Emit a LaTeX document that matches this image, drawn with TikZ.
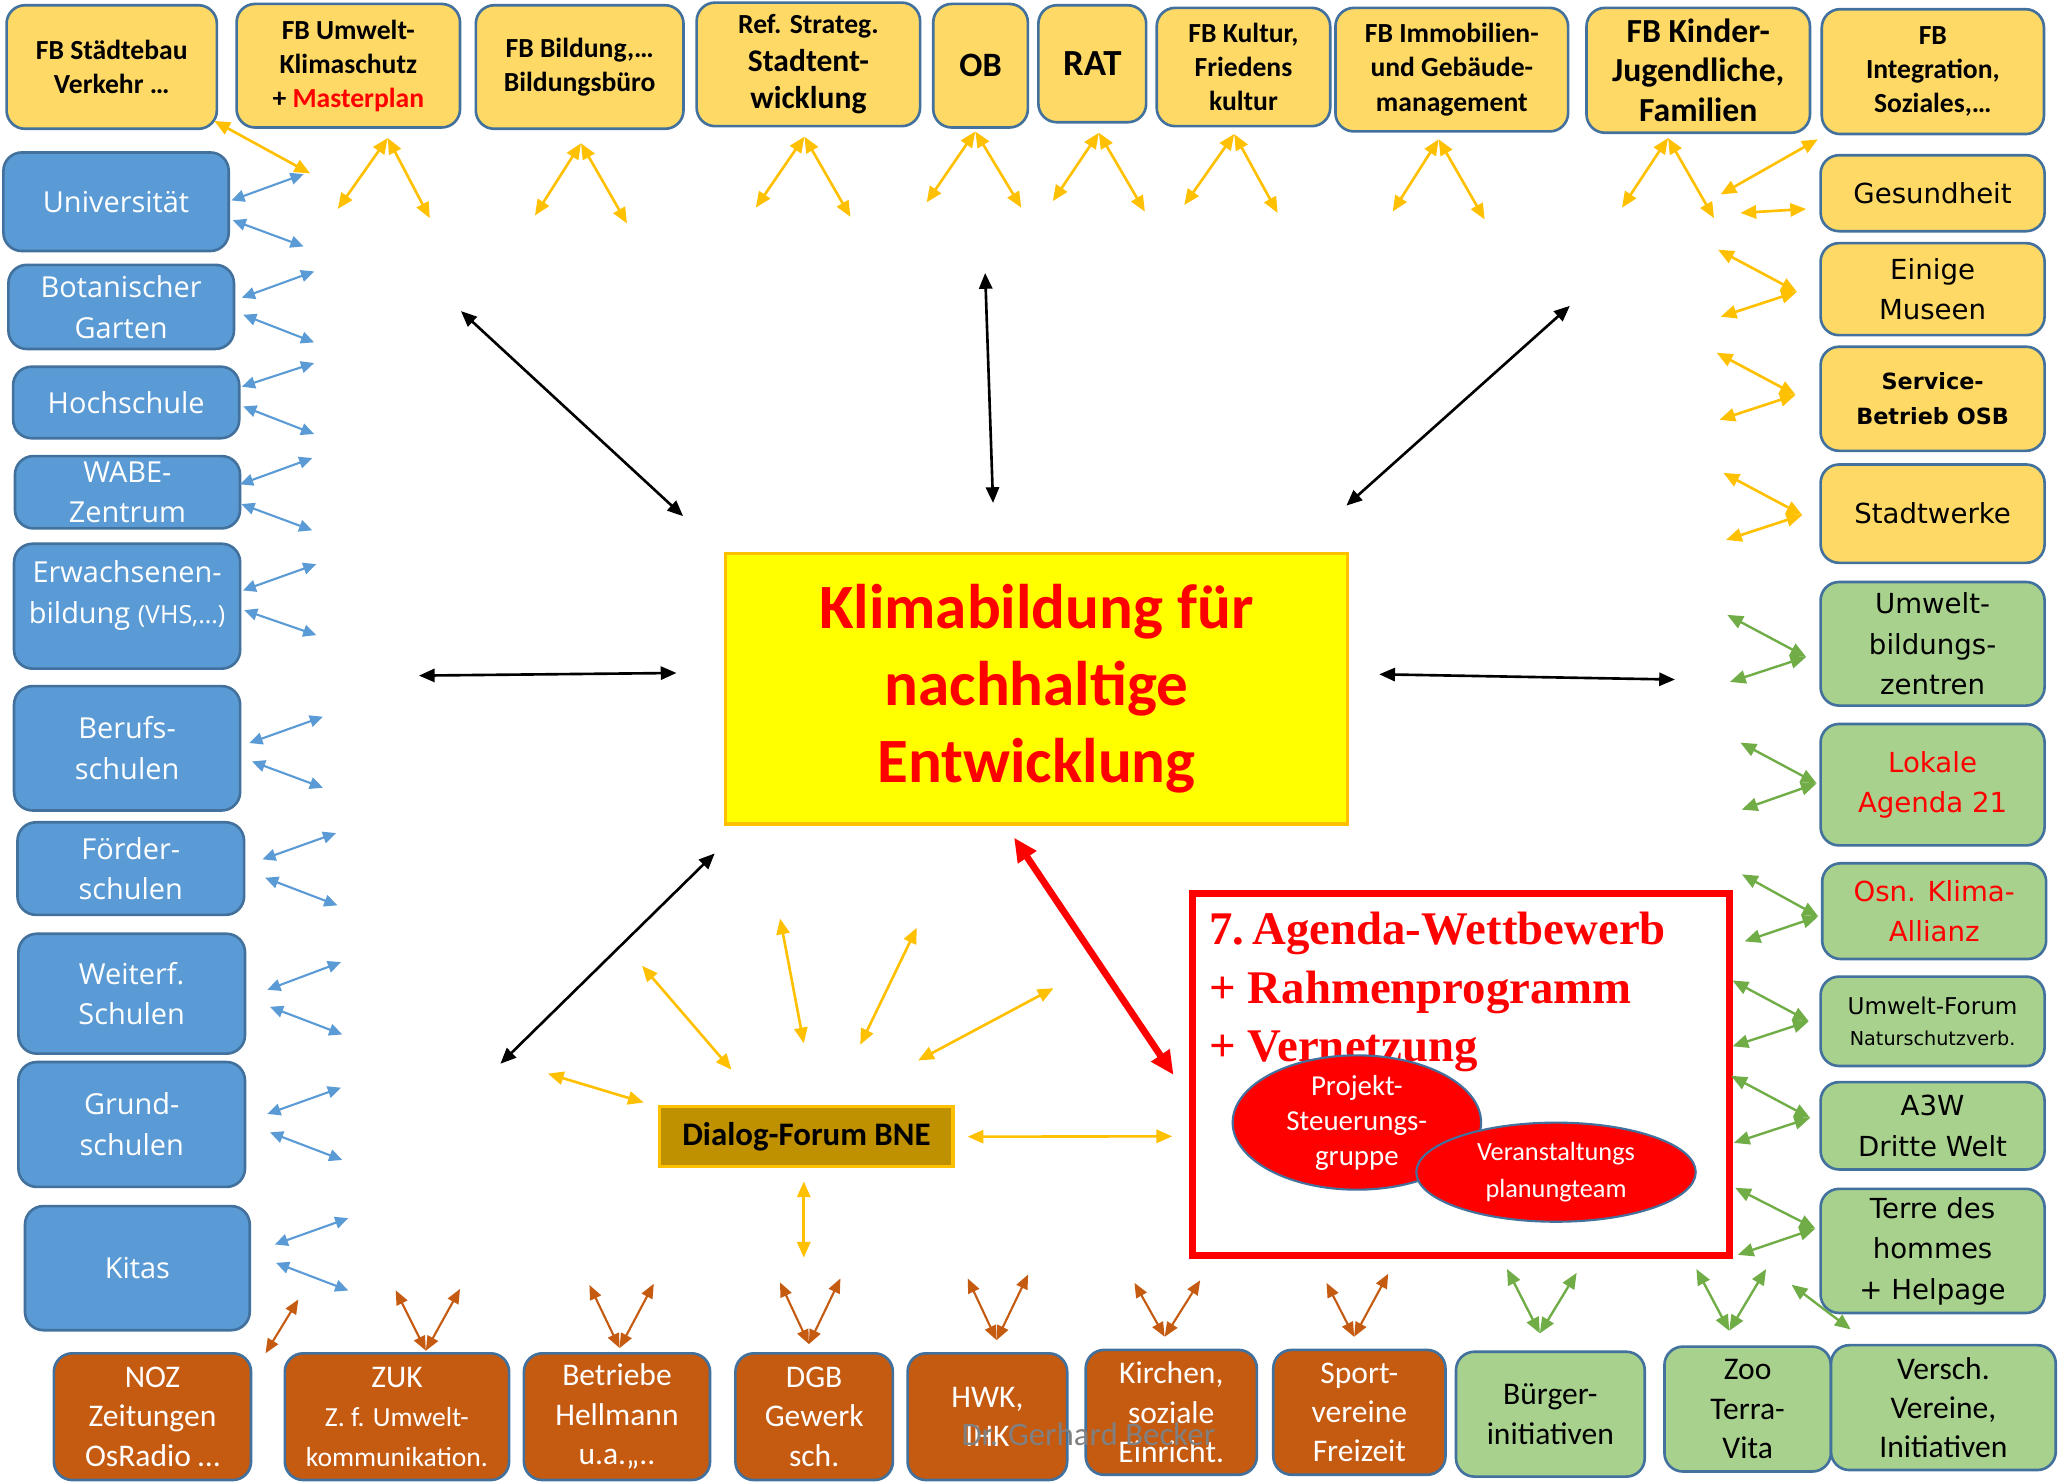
\documentclass[tikz,border=0pt]{standalone}
\usepackage{fontspec}
\setmainfont{Carlito}
\newfontfamily\segoefont{Open Sans}
\newfontfamily\verdfont{DejaVu Sans}
\newfontfamily\timesfont{Liberation Serif}
\usetikzlibrary{arrows.meta, shapes.geometric}
\definecolor{goldBox}{RGB}{255,217,102}
\definecolor{blueBox}{RGB}{91,155,213}
\definecolor{greenBox}{RGB}{169,209,142}
\definecolor{brownBox}{RGB}{197,90,17}
\definecolor{lineBlue}{RGB}{65,113,156}
\definecolor{goldArrow}{RGB}{255,192,0}
\definecolor{greenArrow}{RGB}{112,173,71}
\definecolor{dialogGold}{RGB}{191,144,0}
\definecolor{pureYellow}{RGB}{255,255,0}

\begin{document}
\begin{tikzpicture}[x=0.5pt, y=-0.5pt,
    boxsize/.style 2 args={minimum width=#1, minimum height=#2},
    orgbox/.style={draw=lineBlue, line width=1pt, rounded corners=7pt, align=center, inner sep=1pt},
    topbox/.style={orgbox, fill=goldBox, font=\bfseries\fontsize{10.5}{13}\selectfont},
    sidebox/.style={orgbox, fill=goldBox, font=\verdfont\fontsize{10.5}{15.5}\selectfont},
    greenbox/.style={orgbox, fill=greenBox, font=\verdfont\fontsize{10.5}{15.4}\selectfont},
    schoolbox/.style={orgbox, fill=blueBox, text=white, font=\segoefont\fontsize{11}{15.5}\selectfont},
    groupbox/.style={orgbox, fill=brownBox, text=white, font=\fontsize{12}{15}\selectfont},
    groupgreen/.style={orgbox, fill=greenBox, font=\fontsize{12}{15}\selectfont},
    team/.style={ellipse, draw=lineBlue, line width=0.8pt, fill=red, text=white, align=center, inner sep=0pt},
    yarrow/.style={draw=goldArrow, line width=1pt, <->, >={Triangle[length=6pt, width=5pt]}},
    barrow/.style={draw=blueBox, line width=0.8pt, <->, >={Triangle[length=5pt, width=4.5pt]}},
    garrow/.style={draw=greenArrow, line width=0.9pt, <->, >={Triangle[length=6pt, width=5pt]}},
    oarrow/.style={draw=brownBox, line width=0.8pt, <->, >={Triangle[length=5.5pt, width=4.5pt]}},
    karrow/.style={draw=black, line width=1pt, <->, >={Triangle[length=6pt, width=5pt]}},
    rarrow/.style={draw=red, line width=2.6pt, <->, >={Triangle[length=9pt, width=8pt]}}
]
    \fill[white] (0,0) rectangle (1568,1127);
    \useasboundingbox (0,0) rectangle (1568,1127);

    % Fachbereiche oben
    \node[topbox, boxsize={80pt}{47pt}] (stbau) at (85,51) {FB Städtebau\\Verkehr …};
    \node[topbox, boxsize={85pt}{47pt}] (umwelt) at (265,50) {FB Umwelt-\\Klimaschutz\\+ \textcolor{red}{Masterplan}};
    \node[topbox, boxsize={79pt}{47pt}] (bildung) at (441,51) {FB Bildung,…\\Bildungsbüro};
    \node[topbox, boxsize={85pt}{47pt}, font=\bfseries\fontsize{12}{14.2}\selectfont] (refstrat) at (615,49) {{\fontsize{10.5}{14.2}\selectfont Ref. Strateg.}\\Stadtent-\\wicklung};
    \node[topbox, boxsize={36pt}{47pt}, font=\bfseries\fontsize{13}{15}\selectfont] (ob) at (746,50) {OB};
    \node[topbox, boxsize={41pt}{44.5pt}, font=\bfseries\fontsize{14}{16}\selectfont] (rat) at (831,48.5) {RAT};
    \node[topbox, boxsize={66pt}{45pt}] (kultur) at (946,51) {FB Kultur,\\Friedens\\kultur};
    \node[topbox, boxsize={88.5pt}{47pt}] (immob) at (1104.5,53) {FB Immobilien-\\und Gebäude-\\management};
    \node[topbox, boxsize={85pt}{47.5pt}, font=\bfseries\fontsize{12.8}{15.2}\selectfont] (kinder) at (1292,53.5) {FB Kinder-\\Jugendliche,\\Familien};
    \node[topbox, boxsize={84.5pt}{47.5pt}] (integr) at (1470.5,54.5) {FB\\Integration,\\Soziales,…};

    % rechte Spalte
    \node[sidebox, boxsize={85.2pt}{28.9pt}] (gesund) at (1470.3,147) {Gesundheit};
    \node[sidebox, boxsize={85.2pt}{35pt}] (museen) at (1470.3,220) {Einige\\Museen};
    \node[sidebox, boxsize={85.2pt}{39.6pt}, font=\verdfont\bfseries\fontsize{8.5}{13.5}\selectfont] (osb) at (1470.3,303.4) {Service-\\Betrieb OSB};
    \node[sidebox, boxsize={85.2pt}{37.4pt}] (swerke) at (1470.3,390.8) {Stadtwerke};
    \node[greenbox, boxsize={85.2pt}{47pt}] (ubz) at (1470.3,489.8) {Umwelt-\\bildungs-\\zentren};
    \node[greenbox, boxsize={85.2pt}{46.2pt}, text=red] (la21) at (1470.3,597) {Lokale\\Agenda 21};
    \node[greenbox, boxsize={85.2pt}{36.4pt}, text=red] (klima) at (1471.5,693.2) {Osn. Klima-\\Allianz};
    \node[greenbox, boxsize={85.2pt}{34pt}, font=\verdfont\fontsize{8.8}{12}\selectfont] (uforum) at (1470.3,777) {Umwelt-Forum\\{\fontsize{7.3}{12}\selectfont Naturschutzverb.}};
    \node[greenbox, boxsize={85.2pt}{33.2pt}] (a3w) at (1470.3,856.5) {A3W\\Dritte Welt};
    \node[greenbox, boxsize={85.2pt}{47.2pt}] (tdh) at (1470.3,951.7) {Terre des\\hommes\\+ Helpage};

    % linke Spalte
    \node[schoolbox, boxsize={85.7pt}{37.5pt}] (uni) at (88.3,153.5) {Universität};
    \node[schoolbox, boxsize={85.8pt}{32pt}] (botgarten) at (92.2,233.5) {Botanischer\\Garten};
    \node[schoolbox, boxsize={86pt}{27.2pt}] (hochschule) at (96,306.2) {Hochschule};
    \node[schoolbox, boxsize={85.6pt}{27.5pt}] (wabe) at (97,374.5) {WABE-\\Zentrum};
    \node[schoolbox, boxsize={86pt}{47.5pt}, text depth=11pt] (ebildung) at (96.7,461.2) {Erwachsenen-\\bildung {\fontsize{9.5}{15.5}\selectfont(VHS,…)}};
    \node[schoolbox, boxsize={86pt}{47.3pt}] (berufs) at (96.7,569.3) {Berufs-\\schulen};
    \node[schoolbox, boxsize={86.2pt}{35.2pt}] (foerder) at (99.5,660.8) {Förder-\\schulen};
    \node[schoolbox, boxsize={86.2pt}{45.6pt}] (weiterf) at (100.2,756) {Weiterf.\\Schulen};
    \node[schoolbox, boxsize={86.2pt}{47.5pt}] (grund) at (100.2,855.5) {Grund-\\schulen};
    \node[schoolbox, boxsize={85.5pt}{47.2pt}] (kitas) at (104.5,964.8) {Kitas};

    % untere Reihe
    \node[groupbox, boxsize={75pt}{48.2pt}] (noz) at (116,1077.8) {NOZ\\Zeitungen\\OsRadio …};
    \node[groupbox, boxsize={85.3pt}{48.2pt}] (zuk) at (302,1077.8) {ZUK\\{\fontsize{10.5}{13}\selectfont Z. f. Umwelt-}\\{\fontsize{10.5}{13}\selectfont kommunikation.}};
    \node[groupbox, boxsize={70.8pt}{48.2pt}] (betriebe) at (469.4,1077.8) {Betriebe\\Hellmann\\u.a.,,..};
    \node[groupbox, boxsize={59.9pt}{48.2pt}] (dgb) at (619.4,1077.8) {DGB\\Gewerk\\sch.};
    \node[groupbox, boxsize={60.7pt}{48.2pt}] (hwk) at (751.2,1077.8) {HWK,\\IHK};
    \node[groupbox, boxsize={65.1pt}{47.5pt}] (kirchen) at (891.1,1074.5) {Kirchen,\\soziale\\Einricht.};
    \node[groupbox, boxsize={65.5pt}{47.5pt}] (sport) at (1034.2,1074.5) {Sport-\\vereine\\Freizeit};
    \node[groupgreen, boxsize={71.8pt}{47.5pt}] (buerger) at (1179.5,1075.9) {Bürger-\\initiativen};
    \node[groupgreen, boxsize={63.3pt}{47.5pt}] (zoo) at (1329.6,1072) {Zoo\\Terra-\\Vita};
    \node[groupgreen, boxsize={85.5pt}{47.5pt}] (vereine) at (1478.5,1070.9) {Versch.\\Vereine,\\Initiativen};

    % Mitte
    \node[draw=goldArrow, line width=1.3pt, fill=pureYellow, text=red, align=center,
          font=\bfseries\fontsize{24}{29.3}\selectfont, boxsize={236.5pt}{103pt}] (kbne) at (788.5,524)
          {\rule{0pt}{6pt}Klimabildung für\\nachhaltige\\Entwicklung};
    \node[draw=red, line width=2.7pt, boxsize={204pt}{138pt}, inner sep=0pt] (agenda) at (1111.5,817.5) {};
    \node[anchor=north west, inner sep=0pt, align=left, text=red,
          font=\timesfont\bfseries\fontsize{17.8}{22.1}\selectfont] (agtext) at ([shift={(15,17)}]agenda.north west)
          {7.\kern3pt Agenda-Wettbewerb\\+ Rahmenprogramm\\+ Vernetzung};
    \node[team, boxsize={94.5pt}{41.2pt}, font=\fontsize{11}{13.3}\selectfont] (psg) at (1032.3,854) {Projekt-\\Steuerungs-\\gruppe};
    \node[team, boxsize={106.3pt}{37.7pt}, font=\fontsize{10}{13.8}\selectfont] (vpt) at (1183.8,891.8) {Veranstaltungs\\planungteam};
    \node[draw=goldArrow, line width=1.2pt, fill=dialogGold, font=\bfseries\fontsize{12.5}{15}\selectfont,
          boxsize={111.5pt}{22.8pt}, inner sep=0pt] (dialog) at (613.5,864.8) {Dialog-Forum BNE};

    % Pfeile oben
    \draw[yarrow] ([shift={(-3,-7)}]stbau.south east) -- ++(73,40);
    \draw[yarrow] ([shift={(30,7)}]umwelt.south) -- ++(-38,54);
    \draw[yarrow] ([shift={(30,7)}]umwelt.south) -- ++(32,61);
    \draw[yarrow] ([shift={(1,10)}]bildung.south) -- ++(-35,55);
    \draw[yarrow] ([shift={(1,10)}]bildung.south) -- ++(35,61);
    \draw[yarrow] ([shift={(-3,7)}]refstrat.south) -- ++(-37,54);
    \draw[yarrow] ([shift={(-3,7)}]refstrat.south) -- ++(35,61);
    \draw[yarrow] ([shift={(-4,2)}]ob.south) -- ++(-37,54);
    \draw[yarrow] ([shift={(-4,2)}]ob.south) -- ++(35,58);
    \draw[yarrow] ([shift={(5,7)}]rat.south) -- ++(-35,52);
    \draw[yarrow] ([shift={(5,7)}]rat.south) -- ++(35,60);
    \draw[yarrow] ([shift={(-7,5)}]kultur.south) -- ++(-38,54);
    \draw[yarrow] ([shift={(-7,5)}]kultur.south) -- ++(33,60);
    \draw[yarrow] ([shift={(-10,5)}]immob.south) -- ++(-35,55);
    \draw[yarrow] ([shift={(-10,5)}]immob.south) -- ++(35,61);
    \draw[yarrow] ([shift={(-23,3)}]kinder.south) -- ++(-35,53);
    \draw[yarrow] ([shift={(-23,3)}]kinder.south) -- ++(35,61);
    \draw[yarrow] ([shift={(-2,3)}]integr.south west) -- ++(-74,42);
    \draw[yarrow] ([shift={(-10,12)}]gesund.west) -- ++(-50,3);

    % Pfeile rechts
    \draw[yarrow] ([shift={(-17,2)}]museen.west) -- ++(-60,-32);
    \draw[yarrow] ([shift={(-17,2)}]museen.west) -- ++(-58,19);
    \draw[yarrow] ([shift={(-18,-3)}]osb.west) -- ++(-60,-32);
    \draw[yarrow] ([shift={(-18,-3)}]osb.west) -- ++(-58,19);
    \draw[yarrow] ([shift={(-13,1)}]swerke.west) -- ++(-60,-32);
    \draw[yarrow] ([shift={(-13,1)}]swerke.west) -- ++(-58,19);
    \draw[garrow] ([shift={(-10,10)}]ubz.west) -- ++(-60,-32);
    \draw[garrow] ([shift={(-10,10)}]ubz.west) -- ++(-58,19);
    \draw[garrow] ([shift={(-2,-1)}]la21.west) -- ++(-58,-31);
    \draw[garrow] ([shift={(-2,-1)}]la21.west) -- ++(-57,20);
    \draw[garrow] ([shift={(-2,4)}]klima.west) -- ++(-58,-32);
    \draw[garrow] ([shift={(-2,4)}]klima.west) -- ++(-56,19);
    \draw[garrow] ([shift={(-8,0)}]uforum.west) -- ++(-58,-31);
    \draw[garrow] ([shift={(-8,0)}]uforum.west) -- ++(-58,19);
    \draw[garrow] ([shift={(-7,-6)}]a3w.west) -- ++(-60,-32);
    \draw[garrow] ([shift={(-7,-6)}]a3w.west) -- ++(-58,19);
    \draw[garrow] ([shift={(-3,-17)}]tdh.west) -- ++(-61,-31);
    \draw[garrow] ([shift={(-3,-17)}]tdh.west) -- ++(-59,20);

    % Pfeile links
    \draw[barrow] ([shift={(1,-1)}]uni.east) -- ++(55,-20);
    \draw[barrow] ([shift={(2,14)}]uni.east) -- ++(54,20);
    \draw[barrow] ([shift={(5,-7)}]botgarten.east) -- ++(55,-20);
    \draw[barrow] ([shift={(6,6)}]botgarten.east) -- ++(54,21);
    \draw[barrow] ([shift={(1,-12)}]hochschule.east) -- ++(55,-18);
    \draw[barrow] ([shift={(2,3)}]hochschule.east) -- ++(54,21);
    \draw[barrow] ([shift={(-1,-6)}]wabe.east) -- ++(55,-20);
    \draw[barrow] ([shift={(0,9)}]wabe.east) -- ++(54,20);
    \draw[barrow] ([shift={(1,-12)}]ebildung.east) -- ++(56,-20);
    \draw[barrow] ([shift={(2,3)}]ebildung.east) -- ++(55,19);
    \draw[barrow] ([shift={(6,-4)}]berufs.east) -- ++(56,-20);
    \draw[barrow] ([shift={(8,10)}]berufs.east) -- ++(54,20);
    \draw[barrow] ([shift={(13,-7)}]foerder.east) -- ++(56,-20);
    \draw[barrow] ([shift={(15,7)}]foerder.east) -- ++(55,21);
    \draw[barrow] ([shift={(16,-3)}]weiterf.east) -- ++(56,-21);
    \draw[barrow] ([shift={(18,10)}]weiterf.east) -- ++(55,21);
    \draw[barrow] ([shift={(16,-8)}]grund.east) -- ++(56,-20);
    \draw[barrow] ([shift={(18,6)}]grund.east) -- ++(55,21);
    \draw[barrow] ([shift={(18,-18)}]kitas.east) -- ++(56,-20);
    \draw[barrow] ([shift={(19,-4)}]kitas.east) -- ++(55,21);

    % Pfeile unten
    \draw[oarrow] ([shift={(10,1)}]noz.north east) -- ++(25,-41);
    \draw[oarrow] ([shift={(22,-1)}]zuk.north) -- ++(-23,-46);
    \draw[oarrow] ([shift={(22,-1)}]zuk.north) -- ++(26,-47);
    \draw[oarrow] ([shift={(2,-3)}]betriebe.north) -- ++(-23,-48);
    \draw[oarrow] ([shift={(2,-3)}]betriebe.north) -- ++(26,-49);
    \draw[oarrow] ([shift={(-4,-6)}]dgb.north) -- ++(-22,-47);
    \draw[oarrow] ([shift={(-4,-6)}]dgb.north) -- ++(24,-50);
    \draw[oarrow] ([shift={(7,-9)}]hwk.north) -- ++(-22,-47);
    \draw[oarrow] ([shift={(7,-9)}]hwk.north) -- ++(24,-50);
    \draw[oarrow] ([shift={(-5,-9)}]kirchen.north) -- ++(-23,-41);
    \draw[oarrow] ([shift={(-5,-9)}]kirchen.north) -- ++(27,-43);
    \draw[oarrow] ([shift={(-4,-9)}]sport.north) -- ++(-21,-41);
    \draw[oarrow] ([shift={(-4,-9)}]sport.north) -- ++(26,-48);
    \draw[garrow] ([shift={(-8,-13)}]buerger.north) -- ++(-25,-49);
    \draw[garrow] ([shift={(-8,-13)}]buerger.north) -- ++(28,-46);
    \draw[garrow] ([shift={(-14,-11)}]zoo.north) -- ++(-25,-47);
    \draw[garrow] ([shift={(-14,-11)}]zoo.north) -- ++(28,-47);
    \draw[garrow] ([shift={(16,-11)}]vereine.north west) -- ++(-45,-34);

    % Pfeile zur Mitte
    \draw[karrow] ([shift={(-31,-27)}]kbne.north west) -- ++(-169,-156);
    \draw[karrow] ([shift={(-33,-37)}]kbne.north) -- ++(-6,-175);
    \draw[karrow] ([shift={(-2,-35)}]kbne.north east) -- ++(170,-152);
    \draw[karrow] ([shift={(-36,-12)}]kbne.west) -- ++(-196,2);
    \draw[karrow] ([shift={(23,-11)}]kbne.east) -- ++(225,4);
    \draw[karrow] ([shift={(-7,21)}]kbne.south west) -- ++(-163,160);
    \draw[rarrow] ([shift={(-17,9)}]kbne.south) -- ([shift={(-12,141)}]agenda.north west);

    % Dialog-Forum
    \draw[yarrow] ([shift={(-11,-2)}]dialog.north west) -- ++(-73,-22);
    \draw[yarrow] ([shift={(-57,-27)}]dialog.north) -- ++(-68,-79);
    \draw[yarrow] ([shift={(-2,-47)}]dialog.north) -- ++(-18,-95);
    \draw[yarrow] ([shift={(41,-46)}]dialog.north) -- ++(43,-89);
    \draw[yarrow] ([shift={(85,-34)}]dialog.north) -- ++(103,-55);
    \draw[yarrow] ([xshift=5pt]dialog.east) -- ([shift={(-13,47)}]agenda.west);
    \draw[yarrow] ([shift={(-2,10)}]dialog.south) -- ++(0,58);

    \node[text=gray, font=\fontsize{12.5}{15}\selectfont] (credit) at (828,1091) {Dr. Gerhard Becker};
\end{tikzpicture}
\end{document}
